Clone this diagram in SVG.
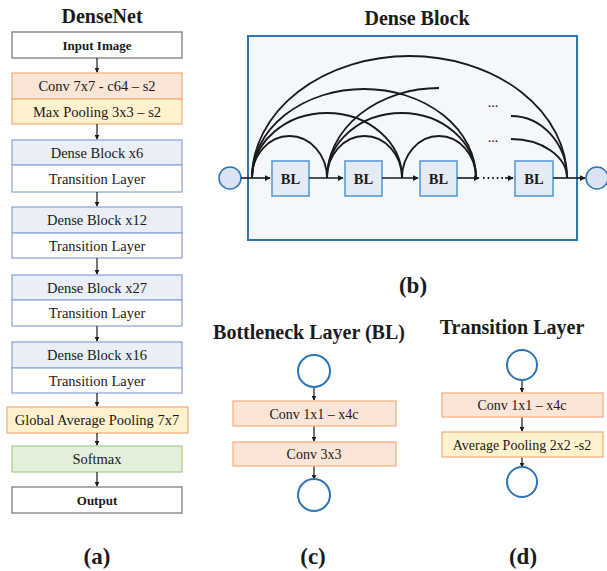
<svg xmlns="http://www.w3.org/2000/svg" width="607" height="571" viewBox="0 0 607 571" font-family="'Liberation Serif', 'DejaVu Serif', 'Times New Roman', serif">
  <style>
    text { fill: #1a1a1a; }
    .title { font-size: 20px; font-weight: bold; text-anchor: middle; }
    .label { font-size: 23px; font-weight: bold; text-anchor: middle; }
    .t { font-size: 14.5px; text-anchor: middle; }
    .ts { font-size: 14px; text-anchor: middle; }
    .tb { font-size: 13px; font-weight: bold; text-anchor: middle; }
    .tbl { font-size: 14.5px; font-weight: bold; text-anchor: middle; }
    .plain { fill: #ffffff; stroke: #7f7f7f; stroke-width: 1.3; }
    .conv { fill: #fbe5d6; stroke: #f4b183; stroke-width: 1.3; }
    .pool { fill: #fff2cc; stroke: #f4b183; stroke-width: 1.3; }
    .dense { fill: #e9eef7; stroke: #8faadc; stroke-width: 1.3; }
    .trans { fill: #ffffff; stroke: #8faadc; stroke-width: 1.3; }
    .soft { fill: #e2efda; stroke: #a9d18e; stroke-width: 1.3; }
    .bl { fill: #e4ebf5; stroke: #5b9bd5; stroke-width: 1.6; }
    .ring { fill: none; stroke: #2e75b6; stroke-width: 2; }
    .port { fill: #dae3f3; stroke: #2e75b6; stroke-width: 1.5; }
    .arc { fill: none; stroke: #1a1a1a; stroke-width: 1.8; }
    .link { fill: none; stroke: #1a1a1a; stroke-width: 1.2; marker-end: url(#head); }
    .flow { fill: none; stroke: #1a1a1a; stroke-width: 1.6; }
    .dots { font-size: 14px; text-anchor: middle; }
  </style>
  <defs>
    <marker id="head" viewBox="0 0 8 8" refX="7" refY="4" markerWidth="5" markerHeight="5" orient="auto" markerUnits="userSpaceOnUse">
      <path d="M0,0 L8,4 L0,8 Z" fill="#1a1a1a"/>
    </marker>
    <marker id="tip" viewBox="0 0 8 8" refX="7" refY="4" markerWidth="6" markerHeight="6" orient="auto" markerUnits="userSpaceOnUse">
      <path d="M0,0 L8,4 L0,8 Z" fill="#1a1a1a"/>
    </marker>
  </defs>

  <!-- (a) DenseNet column -->
  <text class="title" x="102" y="23">DenseNet</text>
  <g id="input-image"><rect class="plain" x="12" y="32" width="170" height="26"/><text class="tb" x="97" y="50">Input Image</text></g>
  <g id="conv7"><rect class="conv" x="12" y="73" width="170" height="26"/><text class="t" x="97" y="91">Conv 7x7 - c64 – s2</text></g>
  <g id="maxpool"><rect class="pool" x="12" y="99" width="170" height="25"/><text class="t" x="97" y="117">Max Pooling 3x3 – s2</text></g>
  <g id="dense6"><rect class="dense" x="12" y="140" width="170" height="25"/><text class="t" x="97" y="158">Dense Block x6</text></g>
  <g id="trans1"><rect class="trans" x="12" y="165" width="170" height="27"/><text class="t" x="97" y="184">Transition Layer</text></g>
  <g id="dense12"><rect class="dense" x="12" y="207" width="170" height="26"/><text class="t" x="97" y="225">Dense Block x12</text></g>
  <g id="trans2"><rect class="trans" x="12" y="233" width="170" height="25"/><text class="t" x="97" y="251">Transition Layer</text></g>
  <g id="dense27"><rect class="dense" x="12" y="275" width="170" height="25"/><text class="t" x="97" y="293">Dense Block x27</text></g>
  <g id="trans3"><rect class="trans" x="12" y="300" width="170" height="26"/><text class="t" x="97" y="318">Transition Layer</text></g>
  <g id="dense16"><rect class="dense" x="12" y="342" width="170" height="26"/><text class="t" x="97" y="360">Dense Block x16</text></g>
  <g id="trans4"><rect class="trans" x="12" y="368" width="170" height="25"/><text class="t" x="97" y="386">Transition Layer</text></g>
  <g id="gap"><rect class="pool" x="7" y="407" width="181" height="26"/><text class="t" x="97" y="425">Global Average Pooling 7x7</text></g>
  <g id="softmax"><rect class="soft" x="12" y="446" width="170" height="26"/><text class="t" x="97" y="464">Softmax</text></g>
  <g id="output"><rect class="plain" x="12" y="487" width="170" height="26"/><text class="tb" x="97" y="505">Output</text></g>
  <text class="label" x="97" y="564">(a)</text>

  <!-- (b) Dense Block -->
  <text class="title" x="417" y="25">Dense Block</text>
  <rect x="248" y="36" width="329" height="204" fill="#f4f7fb" stroke="#2e75b6" stroke-width="2"/>
  <g id="in-port"><circle class="port" cx="230" cy="178" r="11"/></g>
  <g id="out-port"><circle class="port" cx="597" cy="178" r="11"/></g>
  <g id="bl1"><rect class="bl" x="272" y="161" width="37" height="35"/><text class="tbl" x="290.5" y="183.5">BL</text></g>
  <g id="bl2"><rect class="bl" x="345" y="161" width="37" height="35"/><text class="tbl" x="363.5" y="183.5">BL</text></g>
  <g id="bl3"><rect class="bl" x="420" y="161" width="37" height="35"/><text class="tbl" x="438.5" y="183.5">BL</text></g>
  <g id="bl4"><rect class="bl" x="515" y="161" width="38" height="35"/><text class="tbl" x="534" y="183.5">BL</text></g>
  <text class="dots" x="493" y="107">...</text>
  <text class="dots" x="493" y="142">...</text>

  <g id="connectors">
    <!-- main flow through the block -->
    <path class="flow" d="M241,178 L270,178" marker-end="url(#tip)"/>
    <path class="flow" d="M309,178 L343,178" marker-end="url(#tip)"/>
    <path class="flow" d="M382,178 L418,178" marker-end="url(#tip)"/>
    <path class="flow" d="M457,178 L479,178" marker-end="url(#tip)"/>
    <path d="M483,178 L505,178" stroke="#1a1a1a" stroke-width="1.8" stroke-dasharray="1.6 3" fill="none"/>
    <path class="flow" d="M505,178 L513,178" marker-end="url(#tip)"/>
    <path class="flow" d="M553,178 L585,178" marker-end="url(#tip)"/>
    <!-- dense skip arcs -->
    <path class="arc" d="M252,178 A37.5,42 0 0 1 327,178"/>
    <path class="arc" d="M252,178 A75,65 0 0 1 402,178"/>
    <path class="arc" d="M252,178 A112,89 0 0 1 476,178"/>
    <path class="arc" d="M252,178 A157.5,122 0 0 1 567,178"/>
    <path class="arc" d="M327,178 A37.5,42 0 0 1 402,178"/>
    <path class="arc" d="M327,178 A74.5,65 0 0 1 476,178"/>
    <path class="arc" d="M327,178 A112,90 0 0 1 439,88"/>
    <path class="arc" d="M402,178 A37,42 0 0 1 476,178"/>
    <path class="arc" d="M511,116 A56,62 0 0 1 567,178"/>
    <path class="arc" d="M511,139 A56,39 0 0 1 567,178"/>

    <!-- (a) flow arrows -->
    <path class="link" d="M97,58 L97,72"/>
    <path class="link" d="M97,124 L97,139"/>
    <path class="link" d="M97,192 L97,206"/>
    <path class="link" d="M97,258 L97,274"/>
    <path class="link" d="M97,326 L97,341"/>
    <path class="link" d="M97,393 L97,406"/>
    <path class="link" d="M97,433 L97,445"/>
    <path class="link" d="M97,472 L97,486"/>

    <!-- (c) flow arrows -->
    <path class="link" d="M314,387 L314,400"/>
    <path class="link" d="M314,426 L314,441"/>
    <path class="link" d="M314,466 L314,479"/>

    <!-- (d) flow arrows -->
    <path class="link" d="M522,380 L522,392"/>
    <path class="link" d="M522,417 L522,431"/>
    <path class="link" d="M522,457 L522,467"/>
  </g>
  <text class="label" x="413" y="293">(b)</text>

  <!-- (c) Bottleneck Layer -->
  <text class="title" x="309" y="339">Bottleneck Layer (BL)</text>
  <g id="bl-in"><circle class="ring" cx="314" cy="371" r="16"/></g>
  <g id="bl-conv1"><rect class="conv" x="233" y="401" width="163" height="25"/><text class="ts" x="314" y="418.5">Conv 1x1 – x4c</text></g>
  <g id="bl-conv3"><rect class="conv" x="233" y="442" width="163" height="24"/><text class="ts" x="314" y="459">Conv 3x3</text></g>
  <g id="bl-out"><circle class="ring" cx="314" cy="495" r="16"/></g>
  <text class="label" x="313" y="564">(c)</text>

  <!-- (d) Transition Layer -->
  <text class="title" x="512" y="334">Transition Layer</text>
  <g id="tl-in"><circle class="ring" cx="522" cy="365" r="15"/></g>
  <g id="tl-conv"><rect class="conv" x="442" y="393" width="161" height="24"/><text class="ts" x="522" y="410">Conv 1x1 – x4c</text></g>
  <g id="tl-pool"><rect class="pool" x="442" y="432" width="161" height="25"/><text class="ts" x="522" y="449.5">Average Pooling 2x2 -s2</text></g>
  <g id="tl-out"><circle class="ring" cx="522" cy="482" r="15"/></g>
  <text class="label" x="523" y="564">(d)</text>
</svg>
